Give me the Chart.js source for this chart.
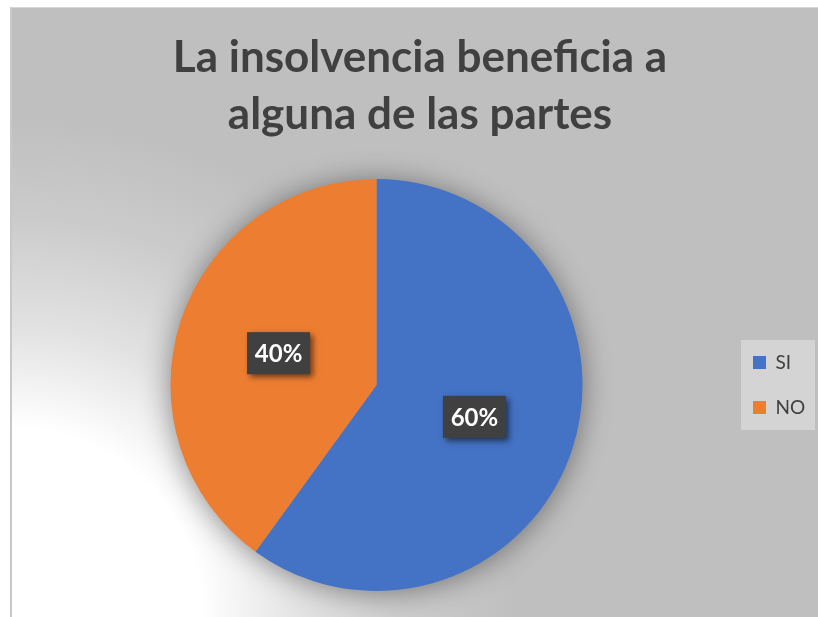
<!DOCTYPE html>
<html>
<head>
<meta charset="utf-8">
<script src="https://cdn.jsdelivr.net/npm/chart.js@4.4.1/dist/chart.umd.min.js"></script>
<style>
    html, body { margin: 0; padding: 0; background: #fff; overflow: hidden; }
    #marco {
        position: absolute; left: 10px; top: 7px;
        width: 830px; height: 640px;
        border-top: 1px solid #d6d6d6; border-left: 2px solid #c8c8c8;
        background: radial-gradient(circle at 0px 610px, #ffffff 0px, #ffffff 190px, #e2e2e2 290px, #cbcbcb 400px, #bfbfbf 500px);
    }
    #grafico { position: absolute; left: 0; top: 0; }
</style>
</head>
<body>
<div id="marco">
    <canvas id="grafico" width="816" height="609"></canvas>
</div>
<script>
const categorias = ['SI', 'NO'];
const valores = [60, 40];
const colores = ['#4472C4', '#ED7D31'];
const tituloLineas = ['La insolvencia beneficia a', 'alguna de las partes'];

// sombra difusa bajo el circulo
const sombraPie = {
    id: 'sombraPie',
    beforeDatasetsDraw(chart) {
        const arco = chart.getDatasetMeta(0).data[0];
        if (!arco) return;
        const ctx = chart.ctx;
        ctx.save();
        ctx.shadowColor = 'rgba(0,0,0,0.45)';
        ctx.shadowBlur = 30;
        ctx.shadowOffsetY = 2;
        ctx.fillStyle = '#9a9a9a';
        ctx.beginPath();
        ctx.arc(arco.x, arco.y, arco.outerRadius - 1, 0, Math.PI * 2);
        ctx.fill();
        ctx.restore();
    }
};

// fondo gris claro de la leyenda
const fondoLeyenda = {
    id: 'fondoLeyenda',
    beforeDraw(chart) {
        const hb = chart.legend && chart.legend.legendHitBoxes;
        if (!hb || !hb.length) return;
        const ctx = chart.ctx;
        const ultimo = hb[hb.length - 1];
        ctx.save();
        ctx.fillStyle = '#d4d4d4';
        ctx.fillRect(hb[0].left - 12, hb[0].top - 13, 74, ultimo.top + ultimo.height + 13 - (hb[0].top - 13));
        ctx.restore();
    }
};

// etiquetas de porcentaje en cajas oscuras
const etiquetas = {
    id: 'etiquetas',
    afterDatasetsDraw(chart) {
        const ctx = chart.ctx;
        const total = valores.reduce((a, b) => a + b, 0);
        chart.getDatasetMeta(0).data.forEach((arco, i) => {
            const p = arco.tooltipPosition();
            const texto = Math.round(valores[i] / total * 100) + '%';
            const w = 63, h = 42;
            ctx.save();
            ctx.shadowColor = 'rgba(0,0,0,0.55)';
            ctx.shadowBlur = 6;
            ctx.shadowOffsetX = 3;
            ctx.shadowOffsetY = 3;
            ctx.fillStyle = '#404040';
            ctx.fillRect(p.x - w / 2, p.y - h / 2, w, h);
            ctx.restore();
            ctx.save();
            ctx.fillStyle = '#ffffff';
            ctx.font = 'bold 24px Lato';
            ctx.textAlign = 'center';
            ctx.textBaseline = 'middle';
            ctx.fillText(texto, p.x, p.y + 1);
            ctx.restore();
        });
    }
};

new Chart(document.getElementById('grafico'), {
    type: 'pie',
    data: {
        labels: categorias,
        datasets: [{
            data: valores,
            backgroundColor: colores,
            borderWidth: 0
        }]
    },
    options: {
        responsive: false,
        animation: false,
        events: [],
        layout: { padding: { left: 14, right: 14, top: 0, bottom: 26 } },
        plugins: {
            title: {
                display: true,
                text: tituloLineas,
                color: '#404040',
                font: { family: 'Lato', size: 44, weight: 'bold', lineHeight: '57px' },
                padding: { top: 21, bottom: 36 }
            },
            legend: {
                position: 'right',
                fullSize: false,
                maxWidth: 87,
                labels: {
                    boxWidth: 13,
                    boxHeight: 13,
                    padding: 26,
                    color: '#404040',
                    font: { family: 'Lato', size: 19 }
                }
            },
            tooltip: { enabled: false }
        }
    },
    plugins: [sombraPie, fondoLeyenda, etiquetas]
});
</script>
</body>
</html>
